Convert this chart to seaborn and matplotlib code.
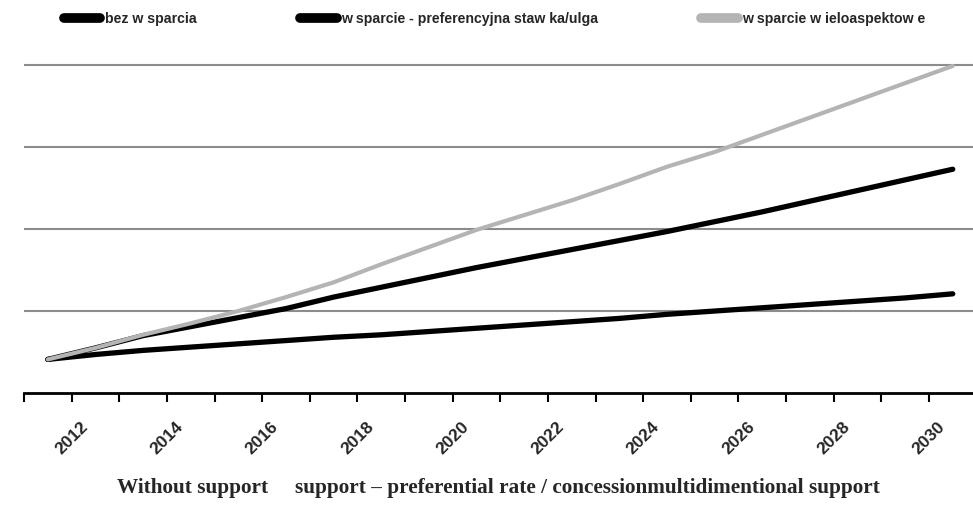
import pandas as pd
import seaborn as sns
import matplotlib.pyplot as plt
from matplotlib.lines import Line2D

# dane (skala osi Y bez opisu: 0..4)
years = list(range(2011, 2031))
bez_wsparcia = [0.41, 0.47, 0.52, 0.56, 0.60, 0.64, 0.68, 0.71, 0.75, 0.79,
                0.83, 0.87, 0.91, 0.96, 1.00, 1.04, 1.08, 1.12, 1.16, 1.21]
preferencyjna = [0.41, 0.55, 0.70, 0.81, 0.92, 1.03, 1.17, 1.29, 1.41, 1.53,
                 1.64, 1.75, 1.86, 1.97, 2.09, 2.21, 2.34, 2.47, 2.60, 2.73]
wieloaspektowe = [0.41, 0.55, 0.71, 0.85, 1.00, 1.17, 1.35, 1.57, 1.78, 1.99,
                  2.17, 2.35, 2.55, 2.76, 2.94, 3.15, 3.36, 3.57, 3.78, 3.99]

series_names = ["bez w sparcia",
                "w sparcie - preferencyjna staw ka/ulga",
                "w sparcie w ieloaspektow e"]
colors = ["#000000", "#000000", "#b4b4b4"]
label_years = [str(y) for y in years if y % 2 == 0]
caption = "Without support     support \u2013 preferential rate / concessionmultidimentional support"

df = pd.DataFrame({"rok": years,
                   series_names[0]: bez_wsparcia,
                   series_names[1]: preferencyjna,
                   series_names[2]: wieloaspektowe})
df = df.melt(id_vars="rok", var_name="seria", value_name="wartosc")
df["poz"] = df["rok"] - years[0]

sns.set_style("white")
plt.rcParams["font.family"] = ["Liberation Sans", "DejaVu Sans"]

fig = plt.figure(figsize=(9.73, 5.11), dpi=100)
ax = fig.add_axes([0.02467, 0.2309, 0.979, 0.6497])

sns.lineplot(data=df, x="poz", y="wartosc", hue="seria", hue_order=series_names,
             palette=dict(zip(series_names, colors)), linewidth=3.6,
             ax=ax, legend=False)
for line, lw in zip(ax.get_lines(), [3.8, 3.8, 3.0]):
    line.set_linewidth(lw)
    line.set_solid_capstyle("round")

ax.set_xlim(-0.5, len(years) - 0.5)
ax.set_ylim(0, 4.05)
ax.set_xlabel("")
ax.set_ylabel("")

# siatka pozioma
ax.set_yticks([1, 2, 3, 4])
ax.set_yticklabels([])
ax.tick_params(axis="y", length=0)
ax.grid(axis="y", color="#8c8c8c", linewidth=1.5)
ax.grid(axis="x", visible=False)

# os X: kreski na granicach kategorii, etykiety co 2 lata
major_pos = [i - 0.5 for i, y in enumerate(years) if y % 2 == 0]
minor_pos = [i - 0.5 for i, y in enumerate(years) if y % 2 == 1] + [len(years) - 0.5]
ax.set_xticks(major_pos)
ax.set_xticklabels(label_years, rotation=45, ha="center", va="top",
                   fontsize=12.5, fontweight="bold")
ax.set_xticks(minor_pos, minor=True)
ax.tick_params(axis="x", which="both", direction="out", length=6.5, width=1.5,
               color="black", bottom=True)
ax.tick_params(axis="x", which="major", pad=12)

for s in ["left", "right", "top"]:
    ax.spines[s].set_visible(False)
ax.spines["bottom"].set_color("black")
ax.spines["bottom"].set_linewidth(2)

handles = [Line2D([], [], color=c, linewidth=7, solid_capstyle="round") for c in colors]
fig.legend(handles, series_names, loc="center left", bbox_to_anchor=(0.058, 0.963),
           ncol=3, frameon=False, borderpad=0, handlelength=2.6, handletextpad=0.3,
           columnspacing=7.3,
           prop={"family": ["Liberation Sans Narrow", "Liberation Sans"],
                 "weight": "bold", "size": 10.2})

fig.text(0.512, 0.045, caption, ha="center", va="center",
         family=["Liberation Serif", "DejaVu Serif"], fontweight="bold", fontsize=15.3)

fig.savefig("out.png", dpi=100)
